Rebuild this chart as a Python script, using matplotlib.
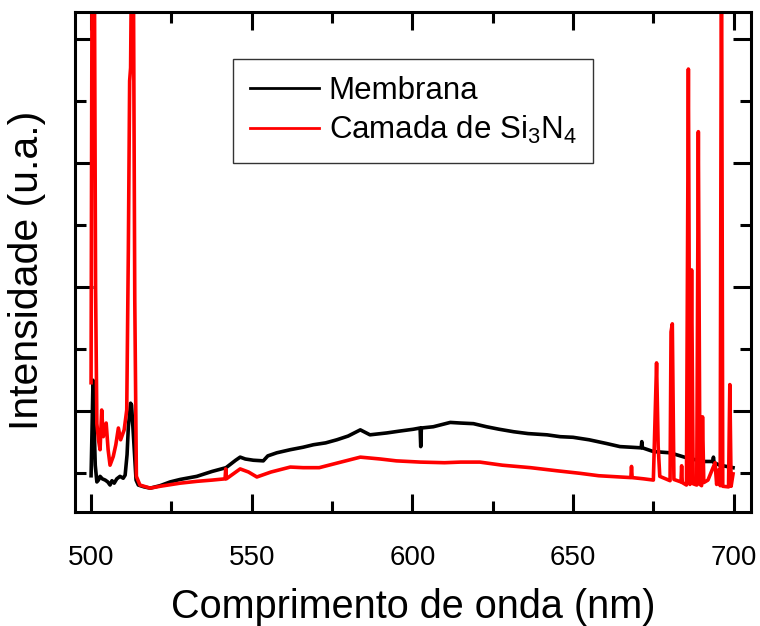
import matplotlib
matplotlib.use("Agg")
import matplotlib.pyplot as plt
from matplotlib.ticker import FixedLocator

plt.rcParams['font.family'] = ['Liberation Sans', 'DejaVu Sans']
plt.rcParams['mathtext.fontset'] = 'custom'
plt.rcParams['mathtext.rm'] = 'Liberation Sans'
plt.rcParams['mathtext.it'] = 'Liberation Sans'

# ---- data (wavelength in nm, intensity in arbitrary units) ----
membrana_wl = [500.0, 500.3, 500.6, 500.9, 501.3, 501.8, 502.3, 502.8, 503.5, 504.4,
               505.2, 505.9, 506.5, 507.2, 508.0, 509.0, 510.0, 510.6, 511.2, 511.6,
               512.3, 512.6, 513.2, 514.0, 514.7, 516.5, 518.4, 521.5, 524.6, 527.7,
               532.9, 537.7, 542.0, 545.0, 546.4, 548.0, 550.5, 553.6, 555.0, 557.8,
               562.0, 566.0, 569.2, 573.0, 576.5, 580.0, 583.8, 586.8, 592.0, 596.0,
               600.3, 602.4, 602.6, 602.8, 606.5, 611.8, 615.0, 619.0, 623.1, 627.0,
               631.5, 636.0, 641.9, 646.0, 650.0, 655.0, 660.4, 664.6, 668.0, 671.2,
               671.4, 671.6, 675.0, 680.2, 685.3, 690.5, 693.5, 693.7, 693.9, 695.7,
               699.8]
membrana_int = [-0.04, 0.70, 1.50, 0.86, 0.13, -0.14, -0.11, -0.05, -0.09, -0.11,
                -0.14, -0.19, -0.12, -0.16, -0.09, -0.05, -0.08, -0.03, 0.30, 0.75,
                1.13, 1.10, 0.59, -0.11, -0.19, -0.22, -0.24, -0.20, -0.14, -0.10,
                -0.05, 0.03, 0.09, 0.21, 0.26, 0.23, 0.21, 0.20, 0.28, 0.33,
                0.38, 0.42, 0.46, 0.49, 0.54, 0.60, 0.70, 0.62, 0.65, 0.68,
                0.71, 0.73, 0.43, 0.73, 0.75, 0.82, 0.81, 0.80, 0.75, 0.71,
                0.67, 0.64, 0.62, 0.59, 0.58, 0.54, 0.48, 0.43, 0.42, 0.41,
                0.51, 0.41, 0.35, 0.33, 0.25, 0.19, 0.19, 0.26, 0.17, 0.13,
                0.09]

camada_wl = [500.0, 500.2, 500.5, 500.9, 501.4, 501.8, 502.3, 502.8, 503.3, 503.8,
             504.7, 505.3, 505.9, 506.9, 507.7, 508.5, 509.2, 510.3, 511.1, 511.6,
             512.0, 512.3, 512.7, 513.1, 513.6, 514.1, 515.2, 518.4, 521.5, 527.7,
             533.0, 537.7, 541.7, 541.9, 542.1, 546.4, 549.0, 551.6, 556.0, 562.0,
             566.0, 571.0, 577.0, 583.8, 590.0, 595.0, 602.5, 610.0, 615.0, 621.0,
             628.0, 636.8, 645.0, 652.0, 658.0, 664.6, 668.0, 668.2, 668.4, 672.0,
             675.0, 675.5, 676.0, 676.5, 677.0, 680.2, 680.5, 680.9, 681.4, 683.6,
             683.8, 684.0, 685.3, 685.9, 686.4, 686.9, 687.4, 688.5, 689.0, 689.5,
             690.0, 690.3, 690.7, 692.0, 694.2, 694.7, 695.2, 695.8, 696.2, 696.6,
             698.4, 698.8, 699.2, 699.8]
camada_int = [1.46, 6.0, 12.0, 10.0, 3.0, 0.8, 0.54, 0.38, 1.02, 0.59,
              0.81, 0.38, 0.13, 0.27, 0.46, 0.73, 0.54, 0.70, 1.02, 3.6,
              6.33, 6.54, 9.0, 9.0, 2.8, -0.05, -0.19, -0.24, -0.21, -0.16,
              -0.13, -0.11, -0.09, 0.07, -0.09, 0.07, 0.02, -0.06, 0.02, 0.10,
              0.09, 0.09, 0.17, 0.26, 0.23, 0.20, 0.18, 0.17, 0.18, 0.18,
              0.13, 0.09, 0.04, 0.00, -0.04, -0.06, -0.07, 0.11, -0.07, -0.09,
              -0.11, 0.83, 1.78, 0.43, -0.05, -0.12, 2.28, 2.41, -0.10, -0.14,
              0.12, -0.15, -0.19, 6.52, -0.18, 3.28, -0.17, -0.19, 5.51, -0.18,
              -0.20, 0.91, -0.15, -0.11, 0.17, -0.18, 0.05, -0.20, 9.0, -0.21,
              -0.22, 1.43, -0.21, -0.01]

labels = ['Membrana', r'Camada de Si$_3$N$_4$']
x_ticks = [500, 550, 600, 650, 700]
x_minor = [525, 575, 625, 675]
y_major = [1, 3, 5, 7]
y_minor = [0, 2, 4, 6]

fig = plt.figure(figsize=(7.6, 6.26), dpi=100)
ax = fig.add_axes([0.0987, 0.1826, 0.8895, 0.7987])

ax.plot(membrana_wl, membrana_int, color='black', lw=2.6, label=labels[0])
ax.plot(camada_wl, camada_int, color='#ff0000', lw=2.6, label=labels[1])

ax.set_xlim(495.0, 705.4)
ax.set_ylim(-0.62, 7.445)

ax.xaxis.set_major_locator(FixedLocator(x_ticks))
ax.xaxis.set_minor_locator(FixedLocator(x_minor))
ax.yaxis.set_major_locator(FixedLocator(y_major))
ax.yaxis.set_minor_locator(FixedLocator(y_minor))
ax.set_yticklabels([])

ax.tick_params(which='both', direction='in', top=True, right=True, width=2.2)
ax.tick_params(which='major', length=13)
ax.tick_params(which='minor', length=8)
ax.tick_params(axis='x', which='major', labelsize=20, pad=24)
for s in ax.spines.values():
    s.set_linewidth(2.2)

ax.set_xlabel('Comprimento de onda (nm)', fontsize=28.5, labelpad=12)
ax.set_ylabel('Intensidade (u.a.)', fontsize=29.5)
ax.yaxis.set_label_coords(-0.043, 0.483)

leg = ax.legend(loc='upper left', bbox_to_anchor=(0.234, 0.905), borderaxespad=0,
                fancybox=False, frameon=True, edgecolor='black', fontsize=22.5,
                handlelength=2.2, handletextpad=0.3, labelspacing=0.25,
                borderpad=0.55)
leg.get_frame().set_linewidth(1.0)
for h in leg.get_lines():
    h.set_linewidth(2.0)

fig.savefig('out.png', dpi=100)
